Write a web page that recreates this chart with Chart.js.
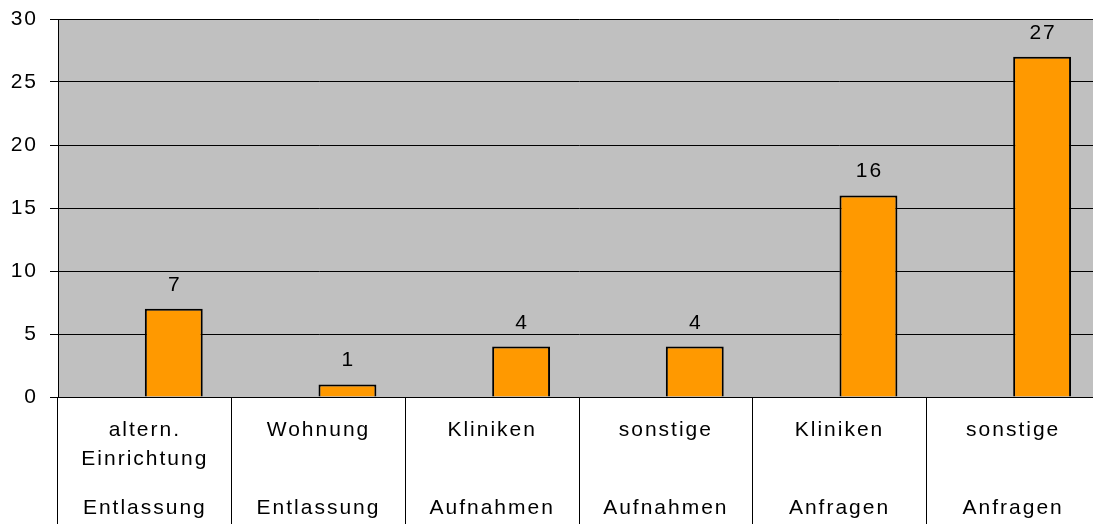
<!DOCTYPE html>
<html>
<head>
<meta charset="utf-8">
<script src="https://cdn.jsdelivr.net/npm/chart.js@4.4.0/dist/chart.umd.min.js"></script>
<style>
html, body { margin: 0; padding: 0; background: #fff; overflow: hidden; }
#wrap { width: 1100px; height: 524px; }
</style>
</head>
<body>
<div id="wrap"><canvas id="myChart"></canvas></div>
<script>
/* global Chart */
var categories = [['altern.', 'Einrichtung'], 'Wohnung', 'Kliniken', 'sonstige', 'Kliniken', 'sonstige'];
var groups = ['Entlassung', 'Entlassung', 'Aufnahmen', 'Aufnahmen', 'Anfragen', 'Anfragen'];
var values = [7, 1, 4, 4, 16, 27];
var emptySeries = [null, null, null, null, null, null]; // empty first series, keeps the bars right of centre
var yTicks = [0, 5, 10, 15, 20, 25, 30];

var FONT = '"Liberation Sans", Arial, sans-serif';
Chart.defaults.font.family = FONT;
Chart.defaults.font.size = 21;
Chart.defaults.color = '#000';

// excel-ish spaced out text
var spacing = {
    id: 'spacing',
    beforeDraw: function(chart) {
        chart.ctx.letterSpacing = '2px';
    }
};

var plotBg = {
    id: 'plotBg',
    beforeDraw: function(chart) {
        var a = chart.chartArea;
        var ctx = chart.ctx;
        ctx.save();
        ctx.fillStyle = '#c0c0c0';
        ctx.fillRect(a.left, a.top, a.right - a.left, a.bottom - a.top);
        ctx.restore();
    }
};

var barLabels = {
    id: 'barLabels',
    afterDatasetsDraw: function(chart) {
        var ctx = chart.ctx;
        var meta = chart.getDatasetMeta(1);
        ctx.save();
        ctx.font = '21px ' + FONT;
        ctx.fillStyle = '#000';
        ctx.textAlign = 'center';
        ctx.textBaseline = 'alphabetic';
        meta.data.forEach(function(bar, i) {
            ctx.fillText(String(values[i]), bar.x + 1, bar.y - 18);
        });
        ctx.restore();
    }
};

var ctx = document.getElementById('myChart').getContext('2d');
var myChart = new Chart(ctx, {
    type: 'bar',
    data: {
        labels: categories,
        datasets: [{
            label: 'leer',
            data: emptySeries,
            backgroundColor: 'rgba(0,0,0,0)'
        }, {
            label: 'Anzahl',
            data: values,
            backgroundColor: '#ff9900',
            borderColor: '#000',
            borderWidth: 2
        }]
    },
    options: {
        responsive: true,
        maintainAspectRatio: false,
        animation: false,
        layout: { padding: { top: 19, left: 0, right: 0, bottom: 0 } },
        datasets: {
            bar: { categoryPercentage: 2 / 3, barPercentage: 1 }
        },
        plugins: {
            legend: { display: false },
            tooltip: { enabled: false }
        },
        scales: {
            x: {
                weight: 0,
                offset: true,
                grid: {
                    offset: true,
                    drawOnChartArea: false,
                    color: '#000',
                    tickLength: 127
                },
                border: { color: '#000' },
                ticks: {
                    autoSkip: false,
                    maxRotation: 0,
                    padding: -109,
                    font: { size: 21, lineHeight: 1.41 }
                },
                afterFit: function(scale) { scale.height = 100; }
            },
            x2: {
                type: 'category',
                position: 'bottom',
                weight: 1,
                offset: true,
                labels: groups,
                grid: { display: false, drawTicks: false },
                border: { display: false },
                ticks: {
                    autoSkip: false,
                    maxRotation: 0,
                    padding: -1,
                    font: { size: 21, lineHeight: 1.2 }
                },
                afterFit: function(scale) { scale.height = 27; }
            },
            y: {
                min: 0,
                max: 30,
                grid: { color: '#000', tickLength: 8 },
                border: { color: '#000' },
                ticks: { padding: 12 },
                afterBuildTicks: function(scale) {
                    scale.ticks = yTicks.map(function(v) { return { value: v }; });
                },
                afterFit: function(scale) {
                    scale.width = 58;
                    scale.paddingTop = 0;
                    scale.paddingBottom = 0;
                }
            }
        }
    },
    plugins: [spacing, plotBg, barLabels]
});
</script>
</body>
</html>
